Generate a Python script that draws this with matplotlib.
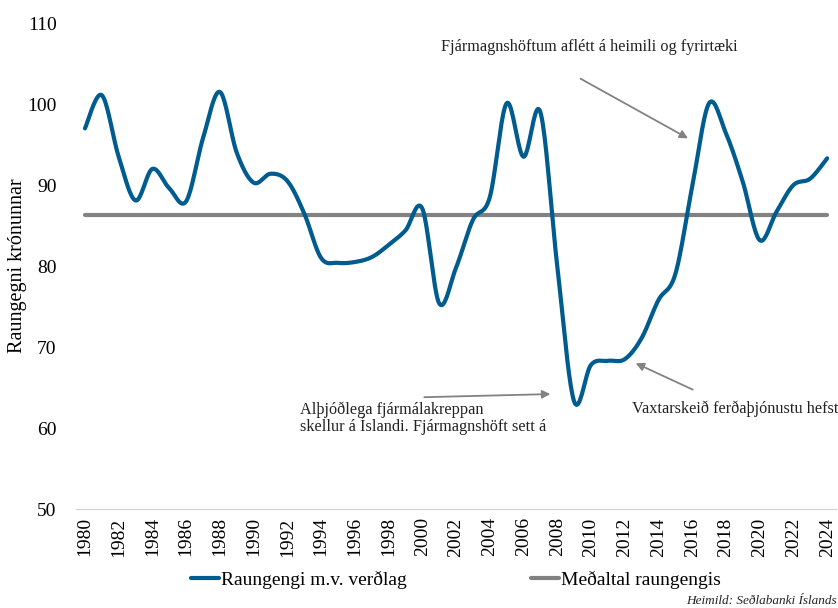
import numpy as np
import matplotlib.pyplot as plt

years = list(range(1980, 2025))
raungengi = [97.0, 101.1, 93.5, 88.1, 92.0, 89.6, 88.0, 95.8, 101.5, 94.0,
             90.3, 91.4, 90.5, 86.5, 81.0, 80.4, 80.5, 81.1, 82.6, 84.4,
             87.1, 75.4, 79.8, 85.7, 88.5, 100.1, 93.5, 99.0, 80.0, 63.3,
             67.8, 68.3, 68.5, 71.1, 75.8, 79.0, 89.8, 100.1, 96.4, 90.4,
             83.2, 86.7, 90.0, 90.8, 93.3]
medaltal = 86.3

blue = '#005b8e'
grey = '#828282'
plt.rcParams['font.family'] = ['Liberation Serif', 'DejaVu Serif']


def smooth(x, y, n=20):
    # Excel-style smoothed line (Catmull-Rom through the yearly points)
    x = np.asarray(x, float); y = np.asarray(y, float)
    px = np.r_[x[0], x, x[-1]]; py = np.r_[y[0], y, y[-1]]
    t = np.linspace(0, 1, n, endpoint=False)
    xs, ys = [], []
    for i in range(1, len(px) - 2):
        for arr, out in ((px, xs), (py, ys)):
            p0, p1, p2, p3 = arr[i-1], arr[i], arr[i+1], arr[i+2]
            out.extend(0.5*((2*p1) + (-p0+p2)*t + (2*p0-5*p1+4*p2-p3)*t**2
                            + (-p0+3*p1-3*p2+p3)*t**3))
    xs.append(x[-1]); ys.append(y[-1])
    return xs, ys


fig = plt.figure(figsize=(8.38, 6.08), dpi=100)
ax = fig.add_axes([0.0907, 0.1628, 0.907, 0.7992])

sx, sy = smooth(years, raungengi)
ax.plot(sx, sy, color=blue, lw=3, solid_capstyle='round', label='Raungengi m.v. verðlag', zorder=3)
ax.plot(years, [medaltal]*len(years), color=grey, lw=3, solid_capstyle='round', label='Meðaltal raungengis', zorder=2)

ax.set_xlim(1979.47, 2024.53)
ax.set_ylim(50, 110)
ax.set_yticks(range(50, 111, 10))
ax.set_xticks(range(1980, 2025, 2))
ax.tick_params(axis='x', labelrotation=90, length=0, labelsize=14, pad=6)
ax.tick_params(axis='y', length=0, labelsize=14, pad=14)
for s in ['top', 'right', 'left']:
    ax.spines[s].set_visible(False)
ax.spines['bottom'].set_color('#d0d0d0')
ax.set_ylabel('Raungegni krónunnar', fontsize=14.5, va='center')
ax.yaxis.set_label_coords(-0.077, 0.5)

arrow = dict(arrowstyle='-|>', color=grey, lw=1.3, mutation_scale=12)
ax.text(2001.1, 107.0, 'Fjármagnshöftum aflétt á heimili og fyrirtæki', fontsize=11.7, va='center', color='#222222')
ax.annotate('', xy=(2015.9, 95.6), xytext=(2009.24, 103.3), arrowprops=arrow)
ax.text(1992.75, 61.2, 'Alþjóðlega fjármálakreppan\nskellur á Íslandi. Fjármagnshöft sett á',
        fontsize=11.7, va='center', color='#222222', linespacing=0.95)
ax.annotate('', xy=(2007.76, 64.2), xytext=(1999.95, 63.8), arrowprops=arrow)
ax.text(2012.44, 62.35, 'Vaxtarskeið ferðaþjónustu hefst', fontsize=11.7, va='center', color='#222222')
ax.annotate('', xy=(2012.5, 68.15), xytext=(2016.18, 64.6), arrowprops=arrow)

ax.legend(loc='center', bbox_to_anchor=(0.5, -0.146), ncol=2, frameon=False,
          fontsize=14, handlelength=1.45, handletextpad=0.1, columnspacing=6.4)
fig.text(0.998, 0.0115, 'Heimild: Seðlabanki Íslands', ha='right', va='center', fontsize=9.5, style='italic', color='#222222')

fig.savefig('out.png', dpi=100)
